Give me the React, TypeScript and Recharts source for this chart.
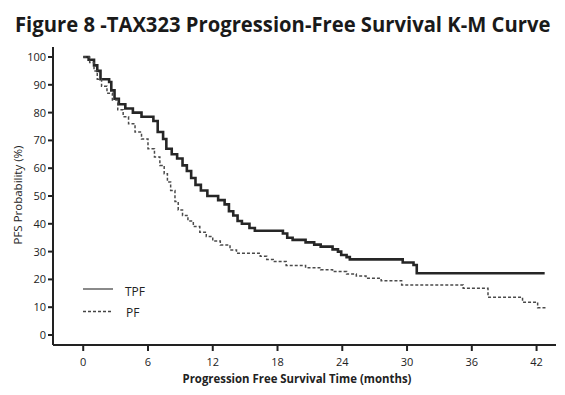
import { LineChart, Line, XAxis, YAxis, Legend } from "recharts";

// Kaplan-Meier step knots (months, % progression-free)
const tpfMonths = [
  0, 0.5, 1.0, 1.3, 1.6, 2.4, 2.6, 2.9, 3.3, 3.9, 4.6, 5.4, 6.5, 6.9, 7.4, 7.7,
  8.2, 8.7, 9.2, 9.6, 10.0, 10.4, 10.9, 11.5, 12.5, 13.1, 13.5, 13.9, 14.3,
  14.7, 15.4, 15.9, 18.5, 18.9, 19.4, 20.6, 21.4, 22.0, 23.1, 23.6, 23.9, 24.4,
  24.7, 29.6, 30.6, 30.9, 42.75,
];
const tpfPfs = [
  100, 99, 97, 95, 92, 91, 88, 85, 83, 81.5, 80, 78.5, 77, 73, 70.5, 67, 65,
  63.5, 61, 59, 56.5, 54, 52, 50, 48.5, 47, 44.5, 43, 41, 40, 38.5, 37.5, 36.5,
  35, 34.2, 33.3, 32.5, 31.8, 30.8, 30, 28.8, 28, 27.2, 26.1, 25.2, 22.2, 22.2,
];

const pfMonths = [
  0, 0.6, 1.0, 1.3, 1.7, 2.2, 2.7, 3.2, 3.7, 4.2, 4.8, 5.4, 6.0, 6.6, 7.1, 7.5,
  7.8, 8.1, 8.5, 8.8, 9.2, 9.7, 10.2, 10.8, 11.4, 12.0, 12.7, 13.6, 14.2, 16.4,
  17.0, 17.6, 18.8, 20.6, 22.0, 23.1, 24.4, 25.3, 26.2, 27.6, 29.5, 35.2, 37.5,
  40.7, 42.1, 42.9,
];
const pfPfs = [
  100, 98, 95, 92, 89.5, 87, 84.5, 81, 78.5, 76, 73, 70.5, 67, 64, 61, 58, 55,
  52, 48, 45, 43, 41, 39, 37, 35.4, 33.8, 32.4, 30.6, 29.4, 28.3, 27.2, 26.4,
  25, 24.2, 23.5, 22.8, 21.9, 21.2, 20.4, 19.5, 18, 16.8, 13.6, 11.8, 9.8, 9.8,
];

const xTicks = [0, 6, 12, 18, 24, 30, 36, 42];
const yTicks = [0, 10, 20, 30, 40, 50, 60, 70, 80, 90, 100];

const tpfData = tpfMonths.map((t, i) => ({ t, v: tpfPfs[i] }));
const pfData = pfMonths.map((t, i) => ({ t, v: pfPfs[i] }));

const ink = "#222";
const font = "'Open Sans', 'Noto Sans', sans-serif";

function KmLegend() {
  return (
    <svg width={90} height={42} style={{ display: "block" }}>
      <line x1={3} y1={9} x2={33} y2={9} stroke="#8a8a8a" strokeWidth={2} />
      <text x={45} y={16} fontSize={12} fill={ink} fontFamily={font}>
        TPF
      </text>
      <line
        x1={3}
        y1={31.5}
        x2={33}
        y2={31.5}
        stroke="#444"
        strokeWidth={1.5}
        strokeDasharray="3 2"
      />
      <text x={46} y={37} fontSize={12} fill={ink} fontFamily={font}>
        PF
      </text>
    </svg>
  );
}

export default function App() {
  return (
    <div
      style={{
        position: "absolute",
        left: 0,
        top: 0,
        width: 565,
        height: 395,
        background: "#fff",
      }}
    >
      <svg
        width={565}
        height={45}
        style={{ position: "absolute", left: 0, top: 0 }}
      >
        <text
          x={0}
          y={0}
          transform="translate(15, 32) scale(0.92, 1)"
          fontSize={22}
          fontWeight={700}
          fill="#1a1a1a"
          fontFamily={font}
        >
          Figure 8 -TAX323 Progression-Free Survival K-M Curve
        </text>
      </svg>
      <LineChart
        width={565}
        height={395}
        margin={{ top: 47, right: 9, bottom: 0, left: 0 }}
      >
        <XAxis
          type="number"
          dataKey="t"
          domain={[-2.8, 43.8]}
          ticks={xTicks}
          allowDataOverflow
          height={50}
          axisLine={{ stroke: ink, strokeWidth: 2 }}
          tickLine={{ stroke: ink, strokeWidth: 2 }}
          tickSize={6}
          tickMargin={7}
          tick={{ fontSize: 11, fill: ink, fontFamily: font }}
          label={{
            content: () => (
              <text
                x={0}
                y={0}
                transform="translate(297, 383) scale(0.95, 1)"
                textAnchor="middle"
                fontSize={12}
                fontWeight={700}
                fill={ink}
                fontFamily={font}
              >
                Progression Free Survival Time (months)
              </text>
            ),
          }}
        />
        <YAxis
          type="number"
          dataKey="v"
          domain={[-3.6, 103.6]}
          ticks={yTicks}
          allowDataOverflow
          width={53}
          axisLine={{ stroke: ink, strokeWidth: 2 }}
          tickLine={{ stroke: ink, strokeWidth: 2 }}
          tickSize={5}
          tickMargin={2}
          tick={{ fontSize: 11, fill: ink, fontFamily: font }}
          label={{
            content: () => (
              <text
                x={0}
                y={0}
                transform="translate(22, 195) rotate(-90)"
                textAnchor="middle"
                fontSize={11.5}
                fill={ink}
                fontFamily={font}
              >
                PFS Probability (%)
              </text>
            ),
          }}
        />
        <Legend
          layout="vertical"
          align="center"
          verticalAlign="middle"
          content={() => <KmLegend />}
          wrapperStyle={{ position: "absolute", left: 80, top: 280, width: 90 }}
        />
        <Line
          data={tpfData}
          dataKey="v"
          name="TPF"
          type="stepAfter"
          stroke="#262626"
          strokeWidth={2.6}
          dot={false}
          isAnimationActive={false}
        />
        <Line
          data={pfData}
          dataKey="v"
          name="PF"
          type="stepAfter"
          stroke="#4a4a4a"
          strokeWidth={1.5}
          strokeDasharray="3 2"
          dot={false}
          isAnimationActive={false}
        />
      </LineChart>
    </div>
  );
}
